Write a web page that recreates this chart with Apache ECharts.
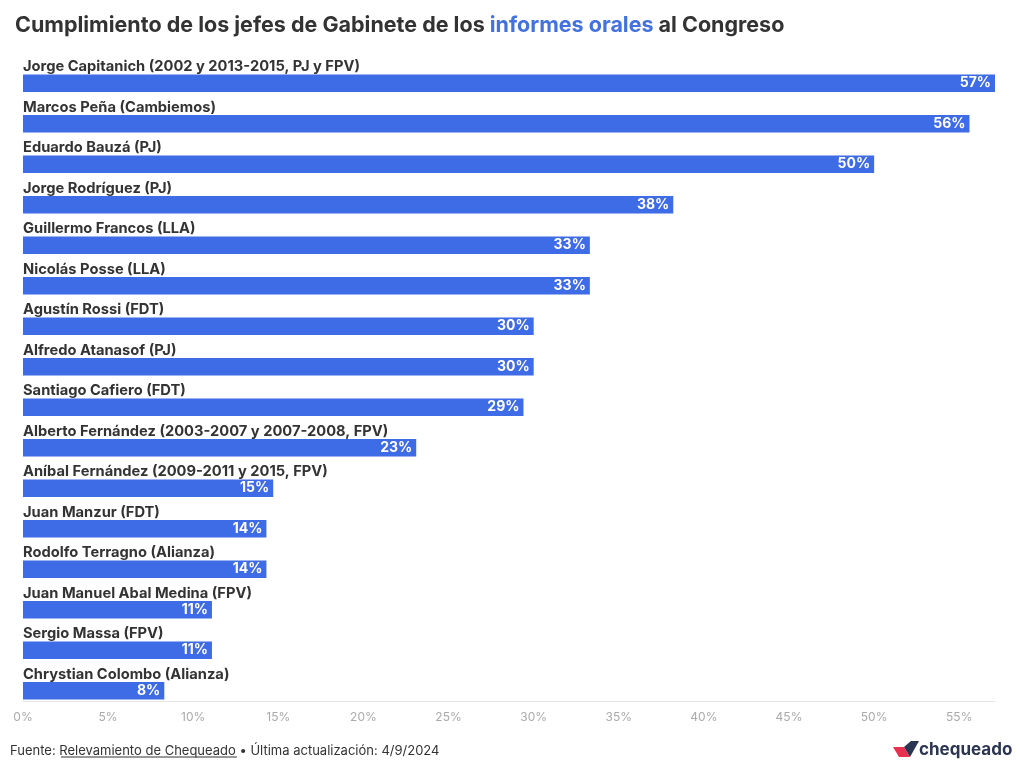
<!DOCTYPE html>
<html><head><meta charset="utf-8">
<script src="https://cdn.jsdelivr.net/npm/echarts@6/dist/echarts.min.js"></script>
<style>html,body{margin:0;padding:0;background:#fff}#c{width:1020px;height:775px}</style>
</head><body><div id="c"></div>
<script>
const categories = [
  "Jorge Capitanich (2002 y 2013-2015, PJ y FPV)",
  "Marcos Peña (Cambiemos)",
  "Eduardo Bauzá (PJ)",
  "Jorge Rodríguez (PJ)",
  "Guillermo Francos (LLA)",
  "Nicolás Posse (LLA)",
  "Agustín Rossi (FDT)",
  "Alfredo Atanasof (PJ)",
  "Santiago Cafiero (FDT)",
  "Alberto Fernández (2003-2007 y 2007-2008, FPV)",
  "Aníbal Fernández (2009-2011 y 2015, FPV)",
  "Juan Manzur (FDT)",
  "Rodolfo Terragno (Alianza)",
  "Juan Manuel Abal Medina (FPV)",
  "Sergio Massa (FPV)",
  "Chrystian Colombo (Alianza)"
];
const values = [57.1, 55.6, 50, 38.2, 33.3, 33.3, 30, 30, 29.4, 23.1, 14.7, 14.3, 14.3, 11.1, 11.1, 8.3];
const xTicks = [0, 5, 10, 15, 20, 25, 30, 35, 40, 45, 50, 55];

const FONT = 'Inter, "Noto Sans", sans-serif';
const chart = echarts.init(document.getElementById('c'), null, {renderer: 'canvas'});
chart.setOption({
  animation: false,
  backgroundColor: '#fff',
  title: {
    left: 10, top: 10,
    text: '{a|Cumplimiento de los jefes de Gabinete de los }{b|informes orales}{a| al Congreso}',
    textStyle: {
      rich: {
        a: {fontFamily: FONT, fontWeight: 'bold', fontSize: 21.5, color: '#333333'},
        b: {fontFamily: FONT, fontWeight: 'bold', fontSize: 21.5, color: '#4372e0'}
      }
    }
  },
  grid: {left: 23, right: 25, top: 63, bottom: 64, containLabel: false},
  xAxis: {
    type: 'value', min: 0, max: 57.1, interval: 5,
    offset: -10,
    axisLine: {show: true, lineStyle: {color: '#e6e6e6'}},
    axisTick: {show: false},
    splitLine: {show: false},
    axisLabel: {
      color: '#aaaaaa', fontFamily: FONT, fontSize: 12, margin: 10,
      showMaxLabel: false,
      formatter: v => xTicks.includes(v) ? v + '%' : ''
    }
  },
  yAxis: {
    type: 'category', data: categories, inverse: true,
    axisLine: {show: false}, axisTick: {show: false}, axisLabel: {show: false}
  },
  series: [
    {
      type: 'bar', data: values, barWidth: 17.5,
      itemStyle: {color: '#3e6be6'},
      label: {
        show: true, position: 'insideRight', distance: 4,
        color: '#ffffff', fontFamily: FONT, fontWeight: 'bold', fontSize: 14,
        formatter: p => Math.round(p.value) + '%'
      }
    },
    {
      type: 'bar', data: values, barWidth: 17.5, barGap: '-100%',
      itemStyle: {color: 'rgba(0,0,0,0)'},
      silent: true,
      label: {
        show: true, position: [0, 0], align: 'left', verticalAlign: 'bottom',
        color: '#333333', fontFamily: FONT, fontWeight: 'bold', fontSize: 14.7,
        formatter: p => p.name
      }
    }
  ],
  graphic: [
    {
      type: 'text', left: 10, top: 745,
      style: {
        text: '{a|Fuente: }{u|Relevamiento de Chequeado}{a| • Última actualización: 4/9/2024}',
        rich: {
          a: {fontFamily: FONT, fontSize: 13, fill: '#333333'},
          u: {fontFamily: FONT, fontSize: 13, fill: '#333333'}
        }
      }
    },
    {
      type: 'line', shape: {x1: 61, y1: 757, x2: 237, y2: 757},
      style: {stroke: '#333333', lineWidth: 1}
    },
    {
      type: 'polygon',
      shape: {points: [[893, 747], [904, 747], [910, 757], [899, 757]]},
      style: {fill: '#e8304f'}
    },
    {
      type: 'polygon',
      shape: {points: [[904, 747], [911, 741], [919, 741], [910, 757]]},
      style: {fill: '#2b3450'}
    },
    {
      type: 'text', left: 919, top: 741,
      style: {text: 'chequeado', fontFamily: FONT, fontWeight: 'bold', fontSize: 17, fill: '#2b3450'}
    }
  ]
});
</script>
</body></html>
